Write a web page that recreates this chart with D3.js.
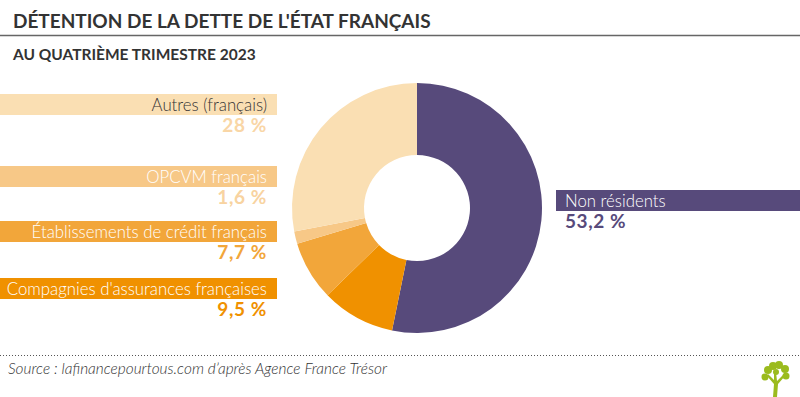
<!DOCTYPE html>
<html>
<head>
<meta charset="utf-8">
<script src="https://cdn.jsdelivr.net/npm/d3@7"></script>
<style>
  body { margin: 0; background: #fff; }
  svg { display: block; font-family: Lato, "Noto Sans", sans-serif; }
</style>
</head>
<body>
<svg width="800" height="397"></svg>
<script>
// data, in pie order (clockwise from the top)
const categories = ['Non résidents', "Compagnies d'assurances françaises", 'Établissements de crédit français', 'OPCVM français', 'Autres (français)'];
const values = [53.2, 9.5, 7.7, 1.6, 28];
const valueLabels = ['53,2 %', '9,5 %', '7,7 %', '1,6 %', '28 %'];

// styles
const colors = ['#574a7b', '#f09100', '#f2a63a', '#f7c887', '#fadfb3'];
const labelColors = ['#fff', '#fff', '#fff', '#fff', '#333'];
const valueColors = ['#574a7b', '#f09100', '#f2a63a', '#f8d3a0', '#f9d6a6'];
// top of each label bar
const barTops = [190, 278, 221, 166, 94];

const svg = d3.select('svg');
const W = 800;

// titles
svg.append('text')
    .attr('x', 13).attr('y', 28)
    .attr('fill', '#333')
    .style('font-size', '19px').style('font-weight', 700)
    .text("DÉTENTION DE LA DETTE DE L'ÉTAT FRANÇAIS");
svg.append('line')
    .attr('x1', 0).attr('x2', W).attr('y1', 35.5).attr('y2', 35.5)
    .attr('stroke', '#666').attr('stroke-width', 1.5);
svg.append('text')
    .attr('x', 13).attr('y', 60)
    .attr('fill', '#333')
    .style('font-size', '15.5px').style('font-weight', 700)
    .text('AU QUATRIÈME TRIMESTRE 2023');

// donut
const cx = 417, cy = 208;
const pie = d3.pie().sort(null).value(d => d);
const arc = d3.arc().innerRadius(53).outerRadius(125);
const g = svg.append('g').attr('transform', 'translate(' + cx + ',' + cy + ')');
g.selectAll('path')
    .data(pie(values))
    .enter().append('path')
    .attr('d', arc)
    .attr('fill', (d, i) => colors[i]);

// label bars
const labels = svg.append('g');
categories.forEach((name, i) => {
    const right = i === 0;
    const y0 = barTops[i];
    labels.append('rect')
        .attr('x', right ? 556 : 0).attr('y', y0)
        .attr('width', right ? W - 556 : 277).attr('height', 21)
        .attr('fill', colors[i]);
    labels.append('text')
        .attr('x', right ? 565 : 267).attr('y', y0 + 16.5)
        .attr('text-anchor', right ? 'start' : 'end')
        .attr('fill', labelColors[i])
        .style('font-size', '16.8px').style('font-weight', 300)
        .text(name);
    labels.append('text')
        .attr('x', right ? 565 : 267).attr('y', y0 + 38)
        .attr('text-anchor', right ? 'start' : 'end')
        .attr('fill', valueColors[i])
        .style('font-size', '19px').style('font-weight', 700)
        .style('letter-spacing', '0.6px')
        .text(valueLabels[i]);
});

// footer
svg.append('line')
    .attr('x1', 0).attr('x2', W).attr('y1', 355.5).attr('y2', 355.5)
    .attr('stroke', '#555').attr('stroke-width', 1)
    .attr('stroke-dasharray', '1,2');
svg.append('text')
    .attr('x', 8).attr('y', 374)
    .attr('fill', '#333')
    .style('font-size', '15.4px').style('font-style', 'italic').style('font-weight', 300)
    .text('Source : lafinancepourtous.com d’après Agence France Trésor');

// little tree logo
const logo = svg.append('g').attr('transform', 'translate(776,378)').attr('fill', '#9bbb1e');
logo.append('path').attr('d', 'M-3,19 L1,19 L2,6 L9,-2 L7,-3 L1,3 L0,-6 L-2,-6 L-2,2 L-8,-4 L-9,-2 L-2,6 Z');
[[-8, -8, 4], [-3, -12, 4], [3, -13, 4], [9, -9, 4], [10, -2, 3.5], [-11, -1, 3.5], [0, -6, 3]].forEach(c => {
    logo.append('circle').attr('cx', c[0]).attr('cy', c[1]).attr('r', c[2]);
});
</script>
</body>
</html>
